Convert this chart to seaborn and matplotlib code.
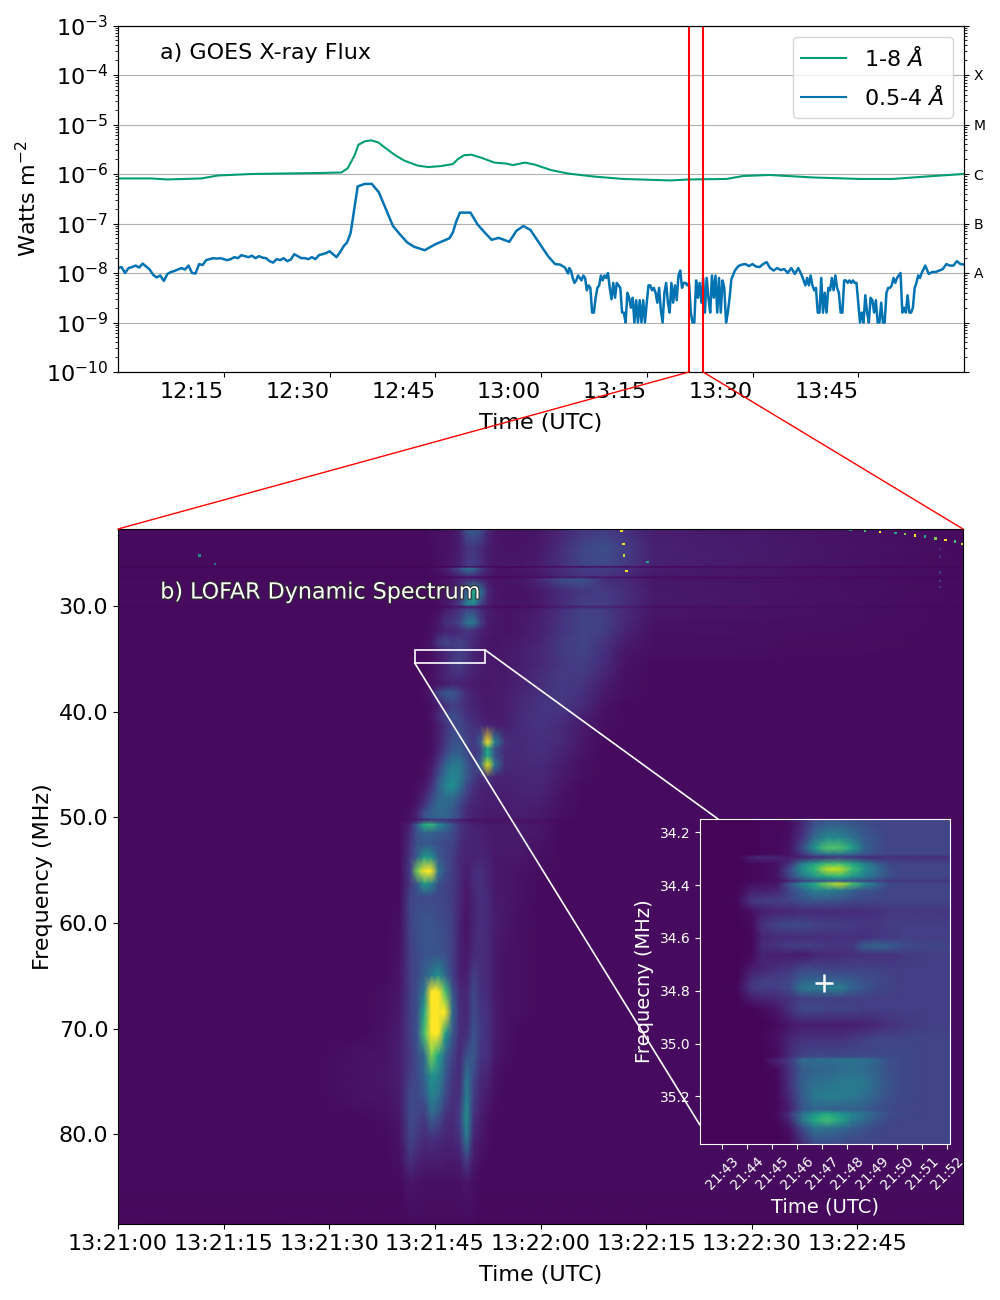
# goes + lofar spectrum panel

import numpy as np
import seaborn as sns
import matplotlib
matplotlib.use("Agg")
import matplotlib.pyplot as plt
import matplotlib.patheffects as pe
from matplotlib.patches import Rectangle, ConnectionPatch
from matplotlib.ticker import LogLocator, NullFormatter

# -----------------------------
# GOES DATA (minutes after 12:00, log10 flux)
# -----------------------------
long_time = [0, 4.7, 7, 11.8, 14.2, 18.9, 23.6, 28.4, 31.7, 32.6, 33.6, 34.1, 35, 35.9, 36.9, 37.8, 39.2,
             40.6, 42.5, 44, 45.8, 47.5, 48.2, 49.1, 50.1, 51.5, 53.4, 55.1, 56, 57.7, 59.1, 61.4, 63.8,
             67.4, 71.6, 78.3, 81.1, 86.3, 88.7, 92.4, 98.6, 105.2, 109.9, 114.7, 119.9]
long_log = [-6.09, -6.09, -6.11, -6.09, -6.03, -6.0, -5.99, -5.98, -5.97, -5.88, -5.61, -5.41, -5.34, -5.32,
            -5.36, -5.46, -5.61, -5.73, -5.83, -5.86, -5.84, -5.80, -5.70, -5.62, -5.61, -5.67, -5.77, -5.79,
            -5.82, -5.77, -5.81, -5.92, -5.99, -6.05, -6.10, -6.13, -6.11, -6.10, -6.04, -6.02, -6.07, -6.10,
            -6.10, -6.05, -6.0]

# 0.5-4 channel, one stretch at a time
quiet_log = [-7.9, -7.88, -8.0, -7.9, -7.88, -7.85, -7.89, -7.81, -7.87, -7.93, -8.04, -8.09, -8.05, -8.16, -8.02,
             -7.98, -7.96, -7.93, -7.9, -7.93, -7.85, -8.0, -8.01, -7.82, -7.84, -7.74, -7.72, -7.7, -7.71, -7.7,
             -7.72, -7.74, -7.72, -7.68, -7.7, -7.64, -7.66, -7.68, -7.65, -7.7, -7.66, -7.69, -7.7, -7.76, -7.79,
             -7.72, -7.74, -7.7, -7.76, -7.73, -7.62, -7.66, -7.7, -7.7, -7.72, -7.68, -7.72, -7.64, -7.62, -7.6,
             -7.56, -7.62, -7.68, -7.58, -7.46, -7.38, -7.19]
flare_time = [33.5, 34, 35, 36, 37, 38, 39, 40, 41, 42, 43.5, 45, 47, 47.5, 48, 48.5, 50, 51, 52, 53, 54, 55.5,
              56.5, 57.5, 58.5, 60, 61, 62, 62.7, 63.4, 63.85]
flare_log = [-6.72, -6.25, -6.20, -6.20, -6.37, -6.71, -7.05, -7.22, -7.38, -7.47, -7.54, -7.42, -7.30, -7.18,
             -6.95, -6.78, -6.78, -7.02, -7.18, -7.33, -7.29, -7.37, -7.15, -7.05, -7.13, -7.45, -7.66, -7.82,
             -7.83, -7.89, -8.01]
noisy_a_log = [-7.9, -7.95, -8.1, -8.2, -8.15, -8.05, -8.1, -8.15, -8.05, -8.1, -8.35, -8.25, -8.3, -8.8, -8.8, -8.5,
               -8.3, -8.25, -8.05, -8.15, -8.05, -8.1, -8.0, -8.3, -8.53, -8.2, -8.5, -8.2, -8.25, -8.3, -8.8, -8.8,
               -9, -8.4, -8.5, -8.7, -8.5, -9, -8.55, -9, -8.55, -9, -8.55, -9, -8.6, -8.25, -8.25, -8.35,
               -8.3, -8.4, -8.6, -8.3, -8.75, -9, -8.4, -8.2, -8.6, -8.8, -8.2, -8.6, -8.25, -8.55, -8.05, -7.95,
               -8.3, -8.2, -8.2, -8.25, -8.2, -8.8, -9, -9, -8.15, -8.5, -8.2, -8.6, -8.1, -8.8, -8.1, -8.5,
               -8.8, -8.05, -8.5, -8.05, -8.8, -8.1, -8.8, -8.15, -8.3, -9, -8.8, -8.5, -8.13]
plateau_log = [-7.95, -7.86, -7.83, -7.82, -7.86, -7.82, -7.87, -7.88, -7.82, -7.78, -7.9, -7.95, -7.9, -7.94, -7.92,
               -8.0, -7.9, -8.02, -7.9]
noisy_b_log = [-8.05, -8.15, -8.25, -8.1, -8.25, -8.05, -8.25, -8.35, -8.3, -8.8, -8.8, -8.1, -8.8, -8.4, -8.8, -8.3,
               -8.35, -8.1, -8.35, -8.05, -8.3, -8.4, -8.8, -8.8, -8.15, -8.15, -8.2, -8.15, -8.2, -8.15, -8.2, -8.2,
               -8.6, -9, -8.8, -9, -8.45, -8.8, -9, -8.5, -8.55, -8.8, -8.55, -9, -9, -8.6, -9, -9,
               -8.4, -8.3, -8.3, -8.25, -8.1, -8.2, -8.1, -8.05, -8.0, -8.8, -8.7, -8.8, -8.45, -8.8, -8.8, -8.7,
               -8.3, -8.2, -8.05, -8.1, -8.0]
rise_log = [-7.85, -8.02, -7.98, -7.98, -7.95, -7.92, -7.82, -7.85, -7.85, -7.76, -7.82, -7.83]

short_time = np.concatenate([np.arange(0, 33.01, 0.5), flare_time, np.arange(64, 87.01, 0.25),
                             np.arange(87.5, 96.51, 0.5), np.arange(97, 114.01, 0.25), np.arange(114.5, 120.01, 0.5)])
short_log = np.concatenate([quiet_log, flare_log, noisy_a_log, plateau_log, noisy_b_log, rise_log])

goes_ticks = [15, 30, 45, 60, 75, 90, 105]
goes_ticklabels = ["12:15", "12:30", "12:45", "13:00", "13:15", "13:30", "13:45"]
flare_levels = [1e-10, 1e-9, 1e-8, 1e-7, 1e-6, 1e-5, 1e-4, 1e-3]
flare_labels = ["", "", "A", "B", "C", "M", "X", ""]
zoom_start, zoom_end = 81, 83

# -----------------------------
# DYNAMIC SPECTRUM (read off by eye, 0-100 colour scale)
# -----------------------------
spec_time = [0, 28, 35, 38, 40, 41.5, 42.5, 43.5, 44.5, 45.5, 46.5, 47.5, 48.5, 49.5, 50.5, 51.5, 52.5, 53.5,
             55, 57, 60, 63, 66, 69, 72, 76, 120]
spec_freq = [22.7, 24.5, 26.2, 26.3, 26.45, 27.15, 27.3, 27.45, 28.6, 29.9, 30.1, 30.3, 31.6, 32.3, 33, 33.5, 34.2,
             35.6, 36.8, 37.4, 38.2, 39.5, 40.4, 41.3, 42.9, 43.5, 44.2, 45.0, 46.2, 47.1, 48.0, 48.8, 49.5, 50.1,
             50.25, 50.7, 51.5, 52.5, 53.8, 55.1, 56.3, 57.5, 60, 63, 65, 66.5, 68.5, 70.5, 72.5, 74.5, 76.5, 78.5,
             80.5, 82.5, 84.5, 88.5]
spec_values = [
    [3, 3, 3, 3, 3, 3, 3, 3, 4, 4, 4, 5, 9, 26, 30, 24, 12, 6, 5, 5, 6, 10, 15, 17, 14, 8, 3],
    [3, 3, 3, 3, 3, 3, 3, 3, 3, 4, 4, 6, 8, 14, 16, 12, 8, 6, 5, 5, 7, 13, 21, 24, 18, 9, 3],
    [3, 3, 3, 3, 3, 3, 3, 3, 3, 4, 5, 7, 9, 16, 18, 13, 8, 6, 6, 6, 8, 14, 20, 22, 17, 9, 3],
    [1, 1, 1, 1, 1, 1, 1, 1, 1, 1, 1, 1, 2, 3, 3, 2, 2, 1, 1, 1, 2, 3, 3, 3, 3, 2, 1],
    [3, 3, 3, 3, 3, 3, 3, 3, 4, 5, 8, 14, 24, 38, 34, 18, 10, 6, 5, 6, 8, 13, 17, 18, 14, 8, 3],
    [3, 3, 3, 3, 3, 3, 3, 3, 3, 4, 5, 7, 10, 14, 14, 10, 7, 5, 5, 5, 7, 12, 15, 15, 12, 7, 3],
    [2, 2, 2, 2, 2, 2, 2, 2, 2, 2, 2, 2, 3, 4, 4, 3, 3, 2, 2, 2, 3, 5, 5, 5, 4, 3, 2],
    [3, 3, 3, 3, 3, 3, 3, 3, 3, 4, 5, 7, 9, 12, 12, 9, 7, 5, 5, 6, 12, 24, 26, 14, 11, 6, 3],
    [3, 3, 3, 3, 3, 3, 3, 3, 3, 4, 5, 8, 14, 30, 62, 40, 12, 6, 5, 5, 7, 12, 16, 17, 13, 7, 3],
    [3, 3, 3, 3, 3, 3, 3, 3, 3, 4, 6, 10, 18, 42, 46, 20, 9, 6, 5, 5, 7, 13, 18, 18, 13, 7, 3],
    [2, 2, 2, 2, 2, 2, 2, 2, 2, 2, 3, 4, 5, 6, 6, 5, 4, 3, 3, 3, 4, 7, 9, 9, 7, 4, 2],
    [3, 3, 3, 3, 3, 3, 3, 3, 3, 4, 7, 10, 14, 20, 20, 12, 8, 6, 5, 6, 8, 14, 19, 18, 12, 6, 3],
    [3, 3, 3, 3, 3, 3, 3, 3, 4, 6, 14, 16, 20, 38, 42, 18, 8, 6, 5, 6, 9, 15, 20, 18, 11, 5, 3],
    [3, 3, 3, 3, 3, 3, 3, 3, 4, 6, 9, 10, 12, 16, 14, 9, 7, 6, 5, 6, 9, 15, 20, 18, 10, 5, 3],
    [3, 3, 3, 3, 3, 3, 3, 3, 5, 12, 16, 14, 16, 14, 12, 8, 6, 5, 6, 7, 10, 17, 20, 16, 8, 4, 3],
    [3, 3, 3, 3, 3, 3, 3, 4, 6, 16, 22, 18, 20, 16, 11, 8, 6, 5, 6, 7, 10, 17, 20, 15, 8, 4, 3],
    [3, 3, 3, 3, 3, 3, 3, 3, 4, 8, 11, 15, 18, 16, 10, 7, 6, 6, 7, 8, 11, 17, 20, 14, 6, 4, 3],
    [3, 3, 3, 3, 3, 3, 3, 3, 4, 6, 10, 16, 18, 14, 10, 8, 7, 6, 7, 8, 11, 16, 18, 12, 5, 3, 3],
    [3, 3, 3, 3, 3, 3, 3, 3, 4, 8, 10, 12, 12, 10, 8, 7, 6, 7, 7, 9, 13, 17, 16, 10, 4, 3, 3],
    [3, 3, 3, 3, 3, 3, 3, 3, 4, 5, 7, 9, 9, 8, 7, 7, 6, 7, 7, 9, 13, 17, 15, 8, 4, 3, 3],
    [3, 3, 3, 3, 3, 3, 3, 4, 7, 20, 28, 28, 20, 12, 9, 7, 6, 7, 8, 10, 14, 17, 14, 7, 4, 3, 3],
    [3, 3, 3, 3, 3, 3, 3, 3, 4, 8, 14, 18, 16, 12, 10, 8, 7, 7, 8, 11, 15, 16, 12, 5, 3, 3, 3],
    [3, 3, 3, 3, 3, 3, 3, 3, 5, 12, 20, 24, 20, 14, 11, 9, 7, 7, 8, 12, 15, 14, 9, 4, 3, 3, 3],
    [3, 3, 3, 3, 3, 3, 3, 3, 4, 8, 14, 20, 22, 17, 14, 12, 10, 8, 8, 12, 15, 12, 7, 4, 3, 3, 3],
    [3, 3, 3, 3, 3, 3, 3, 3, 4, 8, 16, 24, 26, 20, 16, 30, 100, 45, 14, 11, 14, 11, 6, 3, 3, 3, 3],
    [3, 3, 3, 3, 3, 3, 3, 3, 4, 9, 18, 26, 28, 22, 16, 20, 60, 25, 12, 11, 14, 10, 6, 3, 3, 3, 3],
    [3, 3, 3, 3, 3, 3, 3, 3, 5, 12, 22, 32, 32, 24, 16, 24, 62, 26, 12, 11, 13, 9, 5, 3, 3, 3, 3],
    [3, 3, 3, 3, 3, 3, 3, 4, 7, 16, 32, 40, 40, 28, 18, 32, 95, 40, 12, 11, 12, 8, 4, 3, 3, 3, 3],
    [3, 3, 3, 3, 3, 3, 3, 4, 10, 24, 38, 46, 42, 28, 18, 12, 16, 10, 9, 10, 11, 7, 4, 3, 3, 3, 3],
    [3, 3, 3, 3, 3, 3, 4, 6, 14, 30, 44, 50, 38, 22, 14, 10, 9, 9, 9, 10, 10, 6, 3, 3, 3, 3, 3],
    [3, 3, 3, 3, 3, 3, 5, 10, 20, 30, 36, 36, 28, 18, 12, 9, 8, 8, 8, 9, 9, 5, 3, 3, 3, 3, 3],
    [3, 3, 3, 3, 3, 3, 6, 14, 26, 36, 34, 30, 22, 14, 10, 9, 8, 8, 8, 9, 8, 5, 3, 3, 3, 3, 3],
    [3, 3, 3, 3, 3, 5, 10, 24, 30, 32, 32, 28, 20, 12, 9, 8, 7, 7, 7, 8, 7, 4, 3, 3, 3, 3, 3],
    [3, 3, 3, 3, 3, 5, 10, 24, 30, 32, 32, 28, 20, 12, 9, 8, 7, 7, 7, 8, 7, 4, 3, 3, 3, 3, 3],
    [3, 3, 3, 3, 3, 4, 6, 10, 12, 12, 12, 10, 8, 6, 5, 5, 4, 4, 4, 4, 4, 3, 3, 3, 3, 3, 2],
    [3, 3, 3, 3, 3, 10, 30, 62, 66, 50, 38, 26, 16, 12, 9, 8, 7, 7, 7, 7, 6, 3, 3, 3, 3, 3, 3],
    [3, 3, 3, 3, 3, 12, 26, 32, 30, 28, 26, 22, 15, 11, 10, 9, 8, 7, 7, 7, 6, 3, 3, 3, 3, 3, 3],
    [3, 3, 3, 3, 3, 14, 25, 26, 26, 24, 22, 20, 14, 10, 10, 9, 8, 7, 7, 7, 5, 3, 3, 3, 3, 3, 3],
    [3, 3, 3, 3, 3, 16, 30, 55, 50, 28, 22, 18, 12, 9, 9, 10, 9, 7, 6, 6, 4, 3, 3, 3, 3, 3, 3],
    [3, 3, 3, 3, 3, 18, 80, 170, 135, 40, 24, 18, 12, 8, 12, 14, 10, 7, 6, 5, 4, 3, 3, 3, 3, 3, 3],
    [3, 3, 3, 3, 3, 16, 28, 55, 45, 24, 20, 17, 12, 6, 12, 14, 10, 7, 6, 5, 3, 3, 3, 3, 3, 3, 3],
    [3, 3, 3, 3, 3, 20, 22, 22, 22, 21, 20, 17, 11, 6, 10, 14, 12, 7, 6, 5, 3, 3, 3, 3, 3, 3, 3],
    [3, 3, 3, 3, 4, 20, 24, 26, 26, 24, 22, 18, 10, 5, 10, 13, 12, 8, 6, 4, 3, 3, 3, 3, 3, 3, 3],
    [3, 3, 3, 3, 5, 18, 22, 26, 26, 26, 24, 18, 9, 6, 12, 13, 11, 7, 5, 4, 3, 3, 3, 3, 3, 3, 3],
    [3, 3, 3, 3, 6, 18, 22, 30, 40, 50, 34, 18, 9, 8, 18, 14, 11, 7, 5, 4, 3, 3, 3, 3, 3, 3, 3],
    [3, 3, 3, 4, 6, 18, 24, 40, 110, 140, 70, 28, 12, 10, 22, 14, 12, 7, 5, 4, 3, 3, 3, 3, 3, 3, 3],
    [3, 3, 3, 4, 7, 18, 24, 60, 130, 140, 110, 35, 14, 10, 22, 16, 14, 8, 5, 4, 3, 3, 3, 3, 3, 3, 3],
    [3, 3, 3, 5, 8, 18, 26, 70, 120, 110, 55, 28, 13, 12, 26, 17, 14, 8, 5, 3, 3, 3, 3, 3, 3, 3, 3],
    [3, 3, 5, 5, 9, 16, 24, 34, 80, 60, 32, 20, 11, 24, 28, 15, 14, 7, 4, 3, 3, 3, 3, 3, 3, 3, 3],
    [3, 3, 5, 6, 8, 18, 22, 32, 50, 45, 28, 16, 12, 38, 22, 12, 10, 5, 3, 3, 3, 3, 3, 3, 3, 3, 3],
    [3, 3, 5, 5, 8, 22, 22, 26, 44, 38, 22, 14, 14, 44, 18, 10, 7, 4, 3, 3, 3, 3, 3, 3, 3, 3, 3],
    [3, 3, 3, 4, 6, 22, 20, 16, 30, 24, 14, 12, 18, 50, 14, 8, 5, 3, 3, 3, 3, 3, 3, 3, 3, 3, 3],
    [3, 3, 3, 3, 5, 20, 16, 12, 14, 12, 10, 10, 14, 40, 10, 6, 4, 3, 3, 3, 3, 3, 3, 3, 3, 3, 3],
    [3, 3, 3, 3, 4, 14, 10, 8, 8, 8, 7, 7, 8, 18, 7, 4, 3, 3, 3, 3, 3, 3, 3, 3, 3, 3, 3],
    [3, 3, 3, 3, 3, 6, 5, 4, 4, 4, 4, 4, 4, 6, 4, 3, 3, 3, 3, 3, 3, 3, 3, 3, 3, 3, 3],
    [2, 2, 2, 2, 2, 3, 3, 3, 3, 3, 3, 3, 3, 3, 3, 2, 2, 2, 2, 2, 2, 2, 2, 2, 2, 2, 2],
]

# stray single pixels near the top of the spectrum
rfi_time = [11.6, 13.8, 71.5, 71.8, 71.9, 72.2, 75.2, 104, 106.1, 108.2, 110.4, 111.8, 113.2, 114.6, 116.1,
            117.5, 118.9, 119.9, 116.7, 116.7, 116.7, 116.7, 116.7]
rfi_freq = [25.2, 26.0, 22.9, 24.1, 25.2, 26.7, 25.8, 22.8, 22.9, 23.0, 23.1, 23.2, 23.3, 23.4, 23.6, 23.75,
            23.9, 24.1, 24.6, 25.3, 26.8, 27.6, 28.2]
rfi_level = [50, 40, 100, 100, 90, 100, 60, 60, 70, 100, 60, 80, 100, 60, 80, 100, 70, 90, 14, 14, 18, 18, 16]

spec_ticks = [0, 15, 30, 45, 60, 75, 90, 105]
spec_ticklabels = ["13:21:00", "13:21:15", "13:21:30", "13:21:45", "13:22:00", "13:22:15", "13:22:30", "13:22:45"]
freq_ticks = [30, 40, 50, 60, 70, 80]

# -----------------------------
# INSET SPECTRUM
# -----------------------------
inset_time = [42.13, 43.6, 44.2, 44.6, 45.2, 45.7, 46.2, 46.7, 47.2, 47.7, 48.2, 48.7, 49.2, 49.7, 50.2, 51.2, 52.13]
inset_freq = [34.15, 34.22, 34.26, 34.285, 34.295, 34.32, 34.34, 34.37, 34.385, 34.395, 34.42, 34.46, 34.5, 34.55,
              34.6, 34.63, 34.665, 34.72, 34.76, 34.79, 34.83, 34.87, 34.93, 34.98, 35.05, 35.06, 35.1, 35.15,
              35.2, 35.25, 35.265, 35.29, 35.32, 35.38]
inset_values = [
    [1, 1, 1, 2, 2, 3, 10, 20, 24, 24, 22, 22, 20, 20, 20, 20, 20],
    [1, 1, 1, 2, 2, 4, 14, 34, 46, 46, 38, 28, 24, 20, 20, 20, 20],
    [1, 1, 1, 2, 2, 5, 22, 52, 72, 72, 58, 32, 24, 20, 20, 20, 20],
    [1, 1, 1, 2, 3, 5, 14, 28, 36, 36, 32, 26, 22, 20, 20, 20, 20],
    [1, 1, 10, 12, 10, 7, 9, 12, 14, 16, 14, 12, 12, 14, 14, 13, 13],
    [1, 1, 2, 3, 4, 14, 42, 58, 68, 70, 60, 45, 30, 22, 20, 20, 20],
    [1, 1, 2, 3, 5, 22, 50, 66, 90, 92, 70, 50, 36, 24, 20, 20, 20],
    [1, 1, 2, 3, 5, 20, 38, 50, 58, 62, 52, 42, 32, 24, 20, 20, 20],
    [1, 1, 2, 3, 4, 10, 18, 24, 28, 28, 24, 20, 18, 16, 16, 16, 16],
    [1, 1, 5, 5, 6, 26, 46, 60, 80, 90, 72, 50, 34, 22, 20, 20, 20],
    [1, 1, 8, 8, 10, 20, 32, 44, 44, 40, 32, 26, 24, 20, 20, 20, 20],
    [1, 2, 16, 18, 18, 20, 24, 26, 26, 24, 22, 20, 20, 20, 20, 20, 20],
    [1, 1, 4, 8, 10, 10, 12, 12, 12, 12, 12, 13, 14, 16, 16, 16, 16],
    [1, 1, 3, 14, 20, 22, 22, 20, 18, 18, 17, 16, 16, 18, 18, 18, 18],
    [1, 1, 2, 10, 12, 12, 13, 13, 13, 14, 14, 14, 16, 16, 18, 18, 18],
    [1, 1, 2, 12, 15, 18, 18, 18, 16, 16, 16, 30, 32, 30, 24, 20, 20],
    [1, 1, 2, 10, 8, 8, 7, 10, 12, 12, 14, 14, 14, 14, 16, 18, 18],
    [1, 1, 8, 10, 14, 16, 22, 22, 20, 20, 20, 20, 20, 18, 18, 18, 18],
    [1, 1, 14, 18, 18, 20, 30, 32, 30, 30, 28, 24, 22, 20, 18, 18, 18],
    [1, 2, 16, 18, 18, 22, 40, 42, 42, 44, 32, 26, 22, 20, 18, 18, 18],
    [1, 1, 8, 10, 12, 14, 18, 18, 18, 18, 18, 18, 18, 18, 18, 18, 18],
    [1, 1, 1, 3, 6, 14, 22, 22, 20, 20, 20, 18, 18, 18, 18, 18, 18],
    [1, 1, 1, 1, 3, 6, 8, 8, 8, 8, 8, 9, 11, 14, 16, 18, 18],
    [1, 1, 1, 2, 4, 10, 14, 14, 14, 14, 16, 18, 20, 20, 20, 20, 20],
    [1, 1, 1, 1, 3, 12, 20, 22, 22, 22, 22, 22, 22, 22, 22, 20, 20],
    [1, 1, 1, 1, 10, 16, 35, 35, 35, 38, 38, 36, 32, 24, 22, 20, 20],
    [1, 1, 1, 1, 3, 14, 28, 32, 32, 34, 36, 34, 30, 24, 22, 20, 20],
    [1, 1, 1, 1, 2, 14, 30, 36, 38, 40, 42, 40, 32, 26, 22, 20, 20],
    [1, 1, 1, 1, 2, 12, 28, 40, 42, 42, 40, 36, 30, 24, 22, 20, 20],
    [1, 1, 1, 1, 2, 8, 26, 32, 30, 30, 30, 28, 24, 22, 20, 20, 20],
    [1, 1, 1, 1, 3, 14, 36, 50, 60, 52, 44, 38, 30, 24, 22, 20, 20],
    [1, 1, 1, 1, 2, 10, 38, 60, 70, 60, 42, 34, 26, 22, 20, 20, 20],
    [1, 1, 1, 1, 1, 5, 22, 38, 38, 34, 30, 26, 22, 20, 20, 20, 20],
    [1, 1, 1, 1, 1, 2, 10, 22, 22, 22, 20, 20, 20, 20, 20, 20, 20],
]
inset_xticks = [43, 44, 45, 46, 47, 48, 49, 50, 51, 52]
inset_xticklabels = ["21:43", "21:44", "21:45", "21:46", "21:47", "21:48", "21:49", "21:50", "21:51", "21:52"]
inset_yticks = [34.2, 34.4, 34.6, 34.8, 35.0, 35.2]
burst_time, burst_freq = 47.1, 34.77

# -----------------------------
# PLOT SETUP
# -----------------------------
palette = sns.color_palette("colorblind")
viridis = sns.color_palette("viridis", as_cmap=True)
FS = 16

fig = plt.figure(figsize=(10, 13), dpi=100)
ax_goes = fig.add_axes([0.118, 1 - 372 / 1300, 0.846, 346.5 / 1300])
ax_spec = fig.add_axes([0.118, 1 - 1224 / 1300, 0.845, 695 / 1300])


def log_minor_ticks(ax):
    ax.yaxis.set_minor_locator(LogLocator(base=10, subs=np.arange(2, 10) * 0.1, numticks=100))
    ax.yaxis.set_minor_formatter(NullFormatter())


# -----------------------------
# PANEL A: GOES
# -----------------------------
ax_goes.set_yscale("log")
sns.lineplot(x=long_time, y=10.0 ** np.array(long_log), ax=ax_goes, color=palette[2], linewidth=1.5,
             label="1-8 $\\AA$", estimator=None, errorbar=None)
sns.lineplot(x=short_time, y=10.0 ** short_log, ax=ax_goes, color=palette[0], linewidth=1.8,
             label="0.5-4 $\\AA$", estimator=None, errorbar=None)
ax_goes.set_xlim(0, 120)
ax_goes.set_ylim(1e-10, 1e-3)
ax_goes.axvline(zoom_start, color="red", lw=1.5, zorder=5)
ax_goes.axvline(zoom_end, color="red", lw=1.5, zorder=5)
ax_goes.set_xticks(goes_ticks)
ax_goes.set_xticklabels(goes_ticklabels, ha="right", fontsize=FS)
ax_goes.set_yticks(flare_levels)
log_minor_ticks(ax_goes)
ax_goes.tick_params(axis="y", which="major", labelsize=FS)
ax_goes.grid(True, axis="y", which="major", color="#b0b0b0", lw=0.8)
ax_goes.set_axisbelow(True)
ax_goes.set_xlabel("Time (UTC)", fontsize=FS, labelpad=7.8)
ax_goes.set_ylabel("Watts m$^{-2}$", fontsize=FS)
leg = ax_goes.legend(loc="upper right", fontsize=FS, labelspacing=0.68)
for handle in leg.get_lines():
    handle.set_linewidth(1.5)
ax_goes.text(0.05, 0.9192, "a) GOES X-ray Flux", transform=ax_goes.transAxes, fontsize=FS, va="center")

ax_flare = ax_goes.twinx()
ax_flare.set_yscale("log")
ax_flare.set_ylim(1e-10, 1e-3)
ax_flare.set_yticks(flare_levels)
ax_flare.set_yticklabels(flare_labels, fontsize=10)
log_minor_ticks(ax_flare)

# -----------------------------
# PANEL B: SPECTRUM
# -----------------------------
ax_spec.pcolormesh(spec_time, spec_freq, np.array(spec_values), shading="gouraud", cmap=viridis, vmin=0, vmax=100)
ax_spec.scatter(rfi_time, rfi_freq, c=rfi_level, s=3, marker="s", cmap=viridis, vmin=0, vmax=100, linewidths=0)
ax_spec.set_xlim(0, 120)
ax_spec.set_ylim(88.5, 22.7)
ax_spec.set_xticks(spec_ticks)
ax_spec.set_xticklabels(spec_ticklabels, fontsize=FS)
ax_spec.set_yticks(freq_ticks)
ax_spec.set_yticklabels([f"{f:.1f}" for f in freq_ticks], fontsize=FS)
ax_spec.set_xlabel("Time (UTC)", fontsize=FS, labelpad=7.8)
ax_spec.set_ylabel("Frequency (MHz)", fontsize=FS)
ax_spec.text(0.05, 0.9086, "b) LOFAR Dynamic Spectrum", transform=ax_spec.transAxes, fontsize=FS, color="white",
             va="center", path_effects=[pe.withStroke(linewidth=1.5, foreground="#2a2a2a")])

# -----------------------------
# INSET
# -----------------------------
inset = ax_spec.inset_axes([0.6888, 0.1151, 0.2959, 0.4676], zorder=5)
inset.pcolormesh(inset_time, inset_freq, np.array(inset_values), shading="gouraud", cmap=viridis, vmin=0, vmax=100)
inset.scatter([burst_time], [burst_freq], marker="+", s=180, color="white", linewidths=1.8, zorder=3)
inset.set_xlim(inset_time[0], inset_time[-1])
inset.set_ylim(inset_freq[-1], inset_freq[0])
inset.set_xticks(inset_xticks)
inset.set_xticklabels(inset_xticklabels, rotation=45, fontsize=10, color="white")
inset.set_yticks(inset_yticks)
inset.set_yticklabels([f"{f:.1f}" for f in inset_yticks], fontsize=10, color="white")
inset.tick_params(colors="white")
inset.set_xlabel("Time (UTC)", fontsize=14, color="white", labelpad=4)
inset.set_ylabel("Frequecny (MHz)", fontsize=14, color="white", labelpad=4)
for spine in inset.spines.values():
    spine.set_color("white")

# box on the spectrum and its connectors
ax_spec.add_patch(Rectangle((inset_time[0], inset_freq[0]), inset_time[-1] - inset_time[0],
                            inset_freq[-1] - inset_freq[0], fill=False, edgecolor="white", lw=1.2, zorder=3))
for xy_main, xy_inset in [((inset_time[0], inset_freq[-1]), (0.0, 0.058)),
                          ((inset_time[-1], inset_freq[0]), (0.072, 1.0))]:
    ax_spec.add_artist(ConnectionPatch(xyA=xy_main, coordsA=ax_spec.transData, xyB=xy_inset,
                                       coordsB=inset.transAxes, color="white", lw=1.2, zorder=3))

# red lines from panel a down to panel b
for t_goes, t_spec in [(zoom_start, 0), (zoom_end, 120)]:
    fig.add_artist(ConnectionPatch(xyA=(t_goes, 1e-10), coordsA=ax_goes.transData, xyB=(t_spec, 22.7),
                                   coordsB=ax_spec.transData, color="red", lw=1))

fig.savefig("out.png", dpi=100)
